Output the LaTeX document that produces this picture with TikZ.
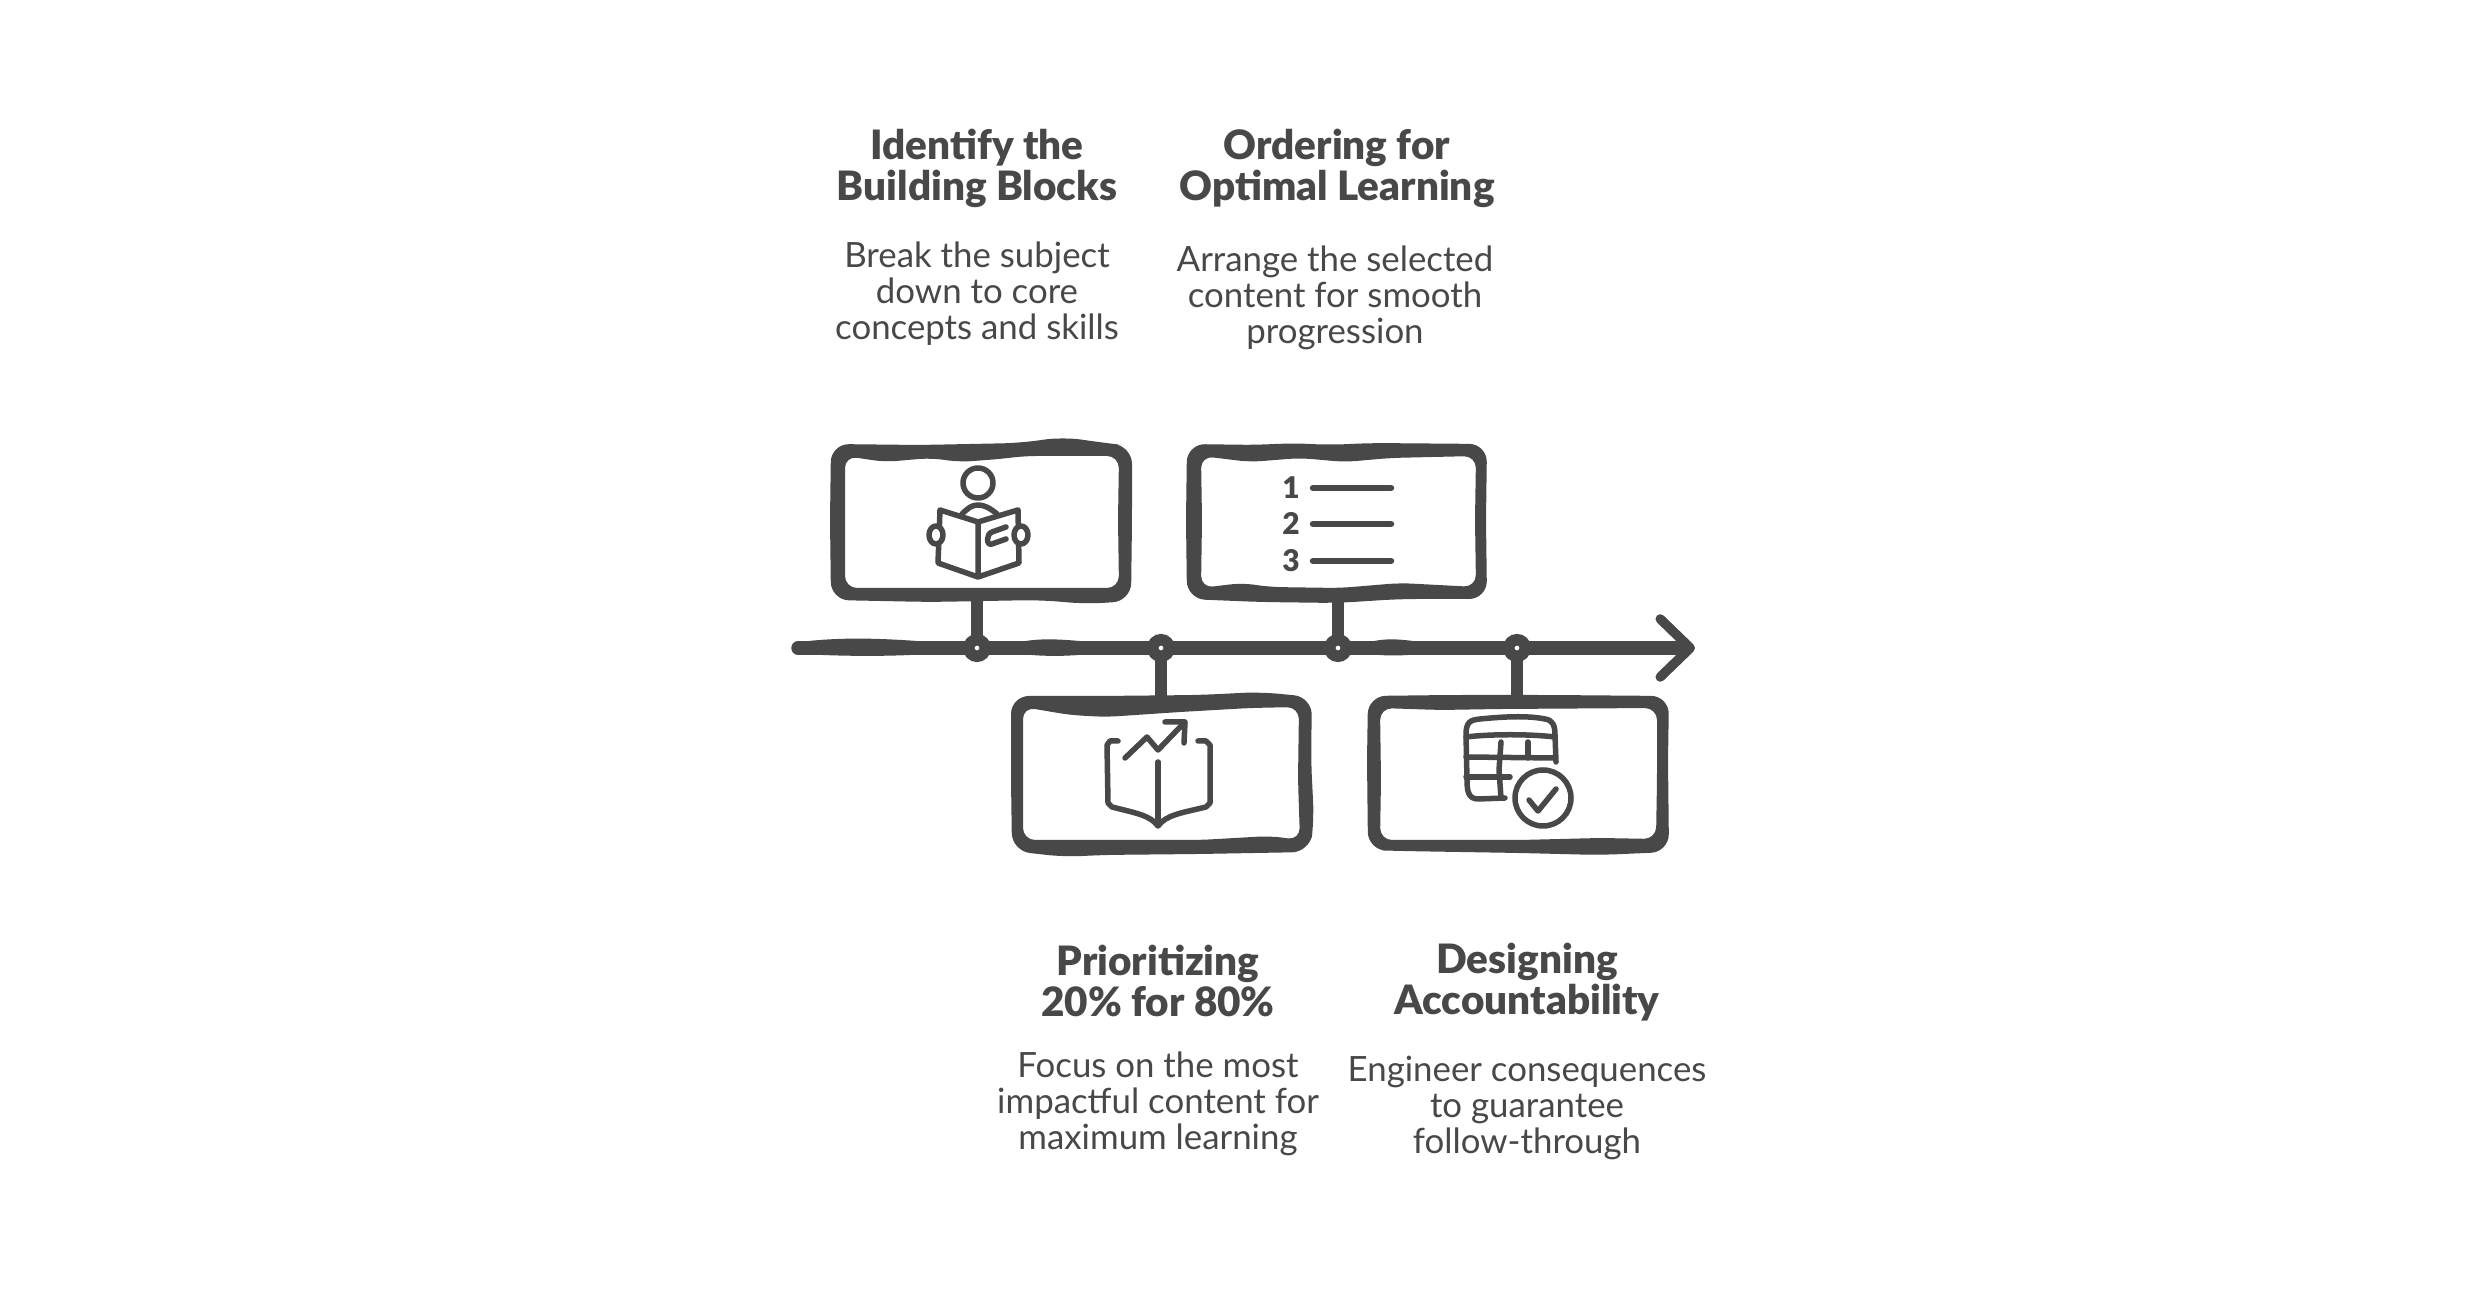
\documentclass[tikz,border=0pt]{standalone}
\usepackage{fontspec}
\setmainfont{Lato}[BoldFont={Lato Black}]
\usetikzlibrary{arrows.meta}
\definecolor{inkgray}{HTML}{484848}
\tikzset{
  frame/.style={minimum width=3cm,minimum height=1.56cm,inner sep=0pt,outer sep=0pt},
  timeline/.style={draw=inkgray,line width=0.135cm,line cap=round,-{Straight Barb[round,length=0.3cm,width=0.58cm,line width=0.095cm]}},
  stem/.style={draw=inkgray,line width=0.115cm},
  tick/.style={circle,draw=inkgray,fill=white,line width=0.115cm,minimum size=0.165cm,inner sep=0pt,outer sep=0pt},
  outline/.style={rounded corners=0.18cm},
  hollow/.style={rounded corners=0.12cm},
  icon/.style={draw=inkgray,line width=0.055cm,line cap=round,line join=round},
  bar/.style={draw=inkgray,line width=0.065cm,line cap=round},
  num/.style={text=inkgray,font=\bfseries\fontsize{8.5}{9}\selectfont,inner sep=0pt},
  title/.style={text=inkgray,align=center,inner sep=0pt,font=\bfseries\fontsize{11.5}{11.7}\selectfont},
  body/.style={text=inkgray,align=center,inner sep=0pt,font=\fontsize{9.9}{10.24}\selectfont}
}
\begin{document}
\begin{tikzpicture}[x=0.01cm,y=-0.01cm]
        \path[use as bounding box,fill=white] (0,0) rectangle (2484,1301);

        \coordinate (start) at (798,648);
        \coordinate (tip) at (1695,648);
        \draw[timeline] (start) -- (tip);
        % thicker stretches of the line
        \fill[inkgray] (800,642) .. controls (840,637) and (880,638) .. (930,642) -- (930,654) .. controls (880,657) and (840,656) .. (800,654) -- cycle;
        \fill[inkgray] (1020,642) .. controls (1040,638) and (1060,639) .. (1090,642) -- (1090,654) .. controls (1060,657) and (1040,656) .. (1020,654) -- cycle;
        \fill[inkgray] (1370,642) .. controls (1385,638) and (1400,639) .. (1420,642) -- (1420,654) .. controls (1400,656) and (1385,656) .. (1370,654) -- cycle;

        \node[frame] (BA) at (981,521) {};
        \node[frame] (BB) at (1337,521) {};
        \node[frame] (BC) at (1162,775) {};
        \node[frame] (BD) at (1518,775) {};

        \node[tick] (TA) at (977,648) {};
        \node[tick] (TB) at (1161,648) {};
        \node[tick] (TC) at (1338,648) {};
        \node[tick] (TD) at (1517,648) {};

        \path[stem]
        (TA) edge (TA |- BA.south)
        (TC) edge (TC |- BB.south)
        (TB) edge (TB |- BC.north)
        (TD) edge (TD |- BD.north);

        % hand drawn frames
        \fill[inkgray,even odd rule]
        [outline] (831,444) -- (920,445) -- (1020,443) -- (1063,437) -- (1105,443) -- (1132,446) -- (1132,520) -- (1131,601) -- (1087,604) -- (1040,600) -- (930,602) -- (831,600) -- (830,520) -- cycle
        [hollow] (845,456) -- (885,462) -- (930,458) -- (960,462) -- (1000,459) -- (1025,456) -- (1119,456) -- (1118,520) -- (1119,588) -- (920,588) -- (845,588) -- (845,520) -- cycle;
        \fill[inkgray,even odd rule]
        [outline] (1187,444) -- (1260,445) -- (1290,443) -- (1330,445) -- (1370,443) -- (1487,444) -- (1486,520) -- (1487,599) -- (1400,599) -- (1337,603) -- (1260,602) -- (1187,599) -- (1186,520) -- cycle
        [hollow] (1201,456) -- (1250,462) -- (1300,458) -- (1345,462) -- (1390,458) -- (1476,456) -- (1475,520) -- (1476,587) -- (1400,583) -- (1340,588) -- (1270,587) -- (1242,583) -- (1201,588) -- (1202,520) -- cycle;
        \fill[inkgray,even odd rule]
        [outline] (1011,696) -- (1100,696) -- (1200,695) -- (1260,692) -- (1312,697) -- (1311,760) -- (1314,820) -- (1310,852) -- (1200,854) -- (1100,855) -- (1065,857) -- (1012,851) -- (1011,780) -- cycle
        [hollow] (1023,707) -- (1070,715) -- (1106,717) -- (1180,712) -- (1250,708) -- (1299,707) -- (1298,780) -- (1300,840) -- (1270,836) -- (1200,840) -- (1023,840) -- (1023,780) -- cycle;
        \fill[inkgray,even odd rule]
        [outline] (1368,696) -- (1450,695) -- (1550,695) -- (1669,696) -- (1668,760) -- (1669,852) -- (1600,855) -- (1520,853) -- (1400,851) -- (1368,850) -- (1367,760) -- cycle
        [hollow] (1380,708) -- (1440,710) -- (1500,709) -- (1657,708) -- (1657,780) -- (1656,839) -- (1600,838) -- (1520,840) -- (1380,840) -- (1381,780) -- cycle;

        % reader
        \draw[icon] (978,483) circle [radius=15];
        \draw[icon] (978,522) -- (940,510) -- (938,563) -- (978,577) -- (1019,563) -- (1018,510) -- (978,522) -- (978,577);
        \draw[icon] (962,514) .. controls (968,508) and (972,505) .. (978,505) .. controls (984,505) and (990,508) .. (997,514);
        \draw[icon,fill=white] (936,535) ellipse [x radius=7,y radius=9];
        \draw[icon,fill=white] (1021,535) ellipse [x radius=7,y radius=9];
        \draw[icon] (1006,527) -- (992,532) .. controls (986,534) and (986,546) .. (992,544) -- (1006,539);

        % numbered list
        \node[num] (NA) at (1291,488) {1};
        \node[num] (NB) at (1291,524) {2};
        \node[num] (NC) at (1291,561) {3};
        \draw[bar] (1313,488) -- (1391,488);
        \draw[bar] (1313,524) -- (1391,524);
        \draw[bar] (1313,561) -- (1391,561);

        % book with chart
        \draw[icon] (1118,741) -- (1110,741) -- (1107,745) -- (1108,803) -- (1112,807) .. controls (1135,813) and (1150,815) .. (1158,826) .. controls (1166,815) and (1181,813) .. (1206,807) -- (1210,803) -- (1210,745) -- (1206,741) -- (1198,741);
        \draw[icon] (1158,762) -- (1158,825);
        \draw[icon] (1125,758) -- (1147,737) -- (1158,750) -- (1184,723);
        \draw[icon] (1165,722) -- (1185,722) -- (1184,743);

        % table with check
        \draw[icon] (1505,798) -- (1478,799) .. controls (1468,799) and (1467,790) .. (1467,780) -- (1466,735) .. controls (1466,722) and (1470,720) .. (1480,719) .. controls (1510,716) and (1530,716) .. (1545,719) .. controls (1553,720) and (1555,726) .. (1555,735) -- (1556,762);
        \draw[icon] (1466,737) .. controls (1490,734) and (1530,734) .. (1555,737);
        \draw[icon] (1466,757) -- (1555,758);
        \draw[icon] (1466,777) -- (1510,777);
        \draw[icon] (1501,742) -- (1499,770) -- (1501,798);
        \draw[icon] (1528,742) -- (1528,758);
        \draw[icon] (1543,798) circle [radius=28];
        \draw[icon] (1529,800) -- (1538,811) -- (1556,789);

        % labels
        \node[title] (TitleA) at (977,168) {Identify the\\Building Blocks};
        \node[body] (BodyA) at (977,294) {Break the subject\\down to core\\concepts and skills};
        \node[title] (TitleB) at (1337,168) {Ordering for\\Optimal Learning};
        \node[body] (BodyB) at (1335,298) {Arrange the selected\\content for smooth\\progression};
        \node[title] (TitleC) at (1158,981) {Prioritizing\\20\% for 80\%};
        \node[body] (BodyC) at (1158,1104) {Focus on the most\\impactful content for\\maximum learning};
        \node[title] (TitleD) at (1527,982) {Designing\\Accountability};
        \node[body] (BodyD) at (1527,1108) {Engineer consequences\\to guarantee\\follow-through};
\end{tikzpicture}
\end{document}
